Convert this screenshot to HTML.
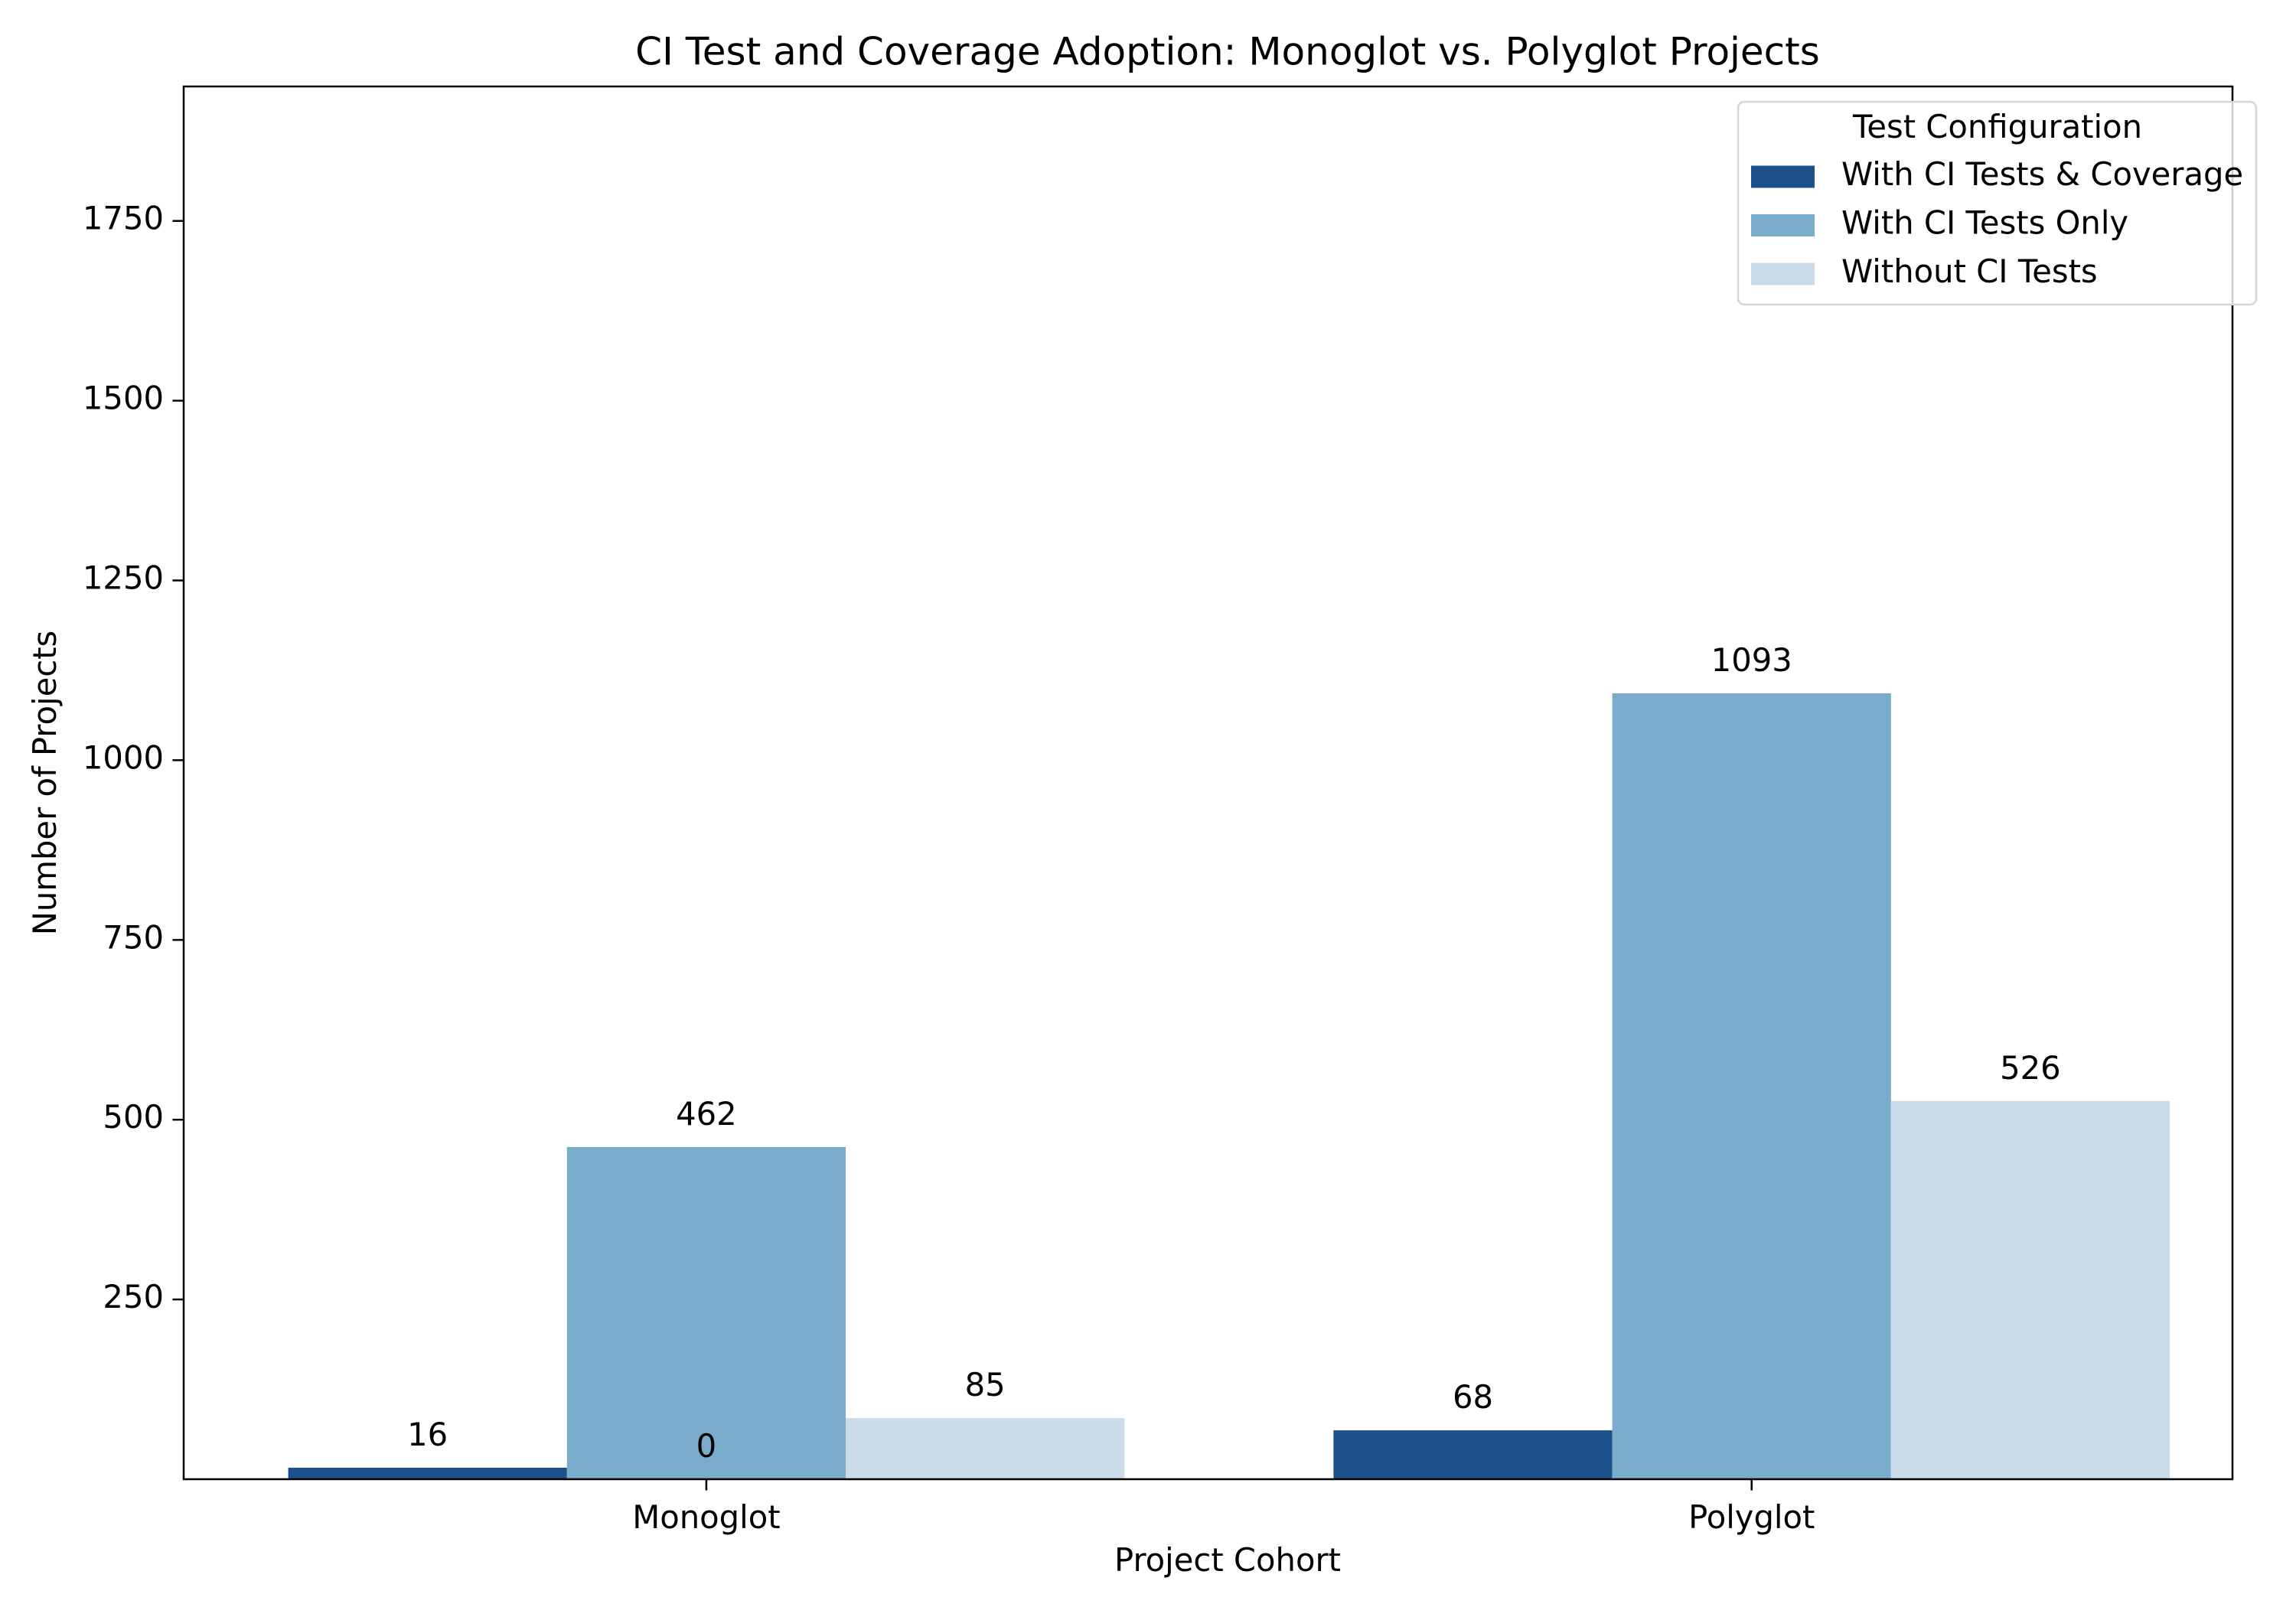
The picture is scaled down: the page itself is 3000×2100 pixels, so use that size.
<!DOCTYPE html>
<html><head><meta charset="utf-8"><style>
html,body{margin:0;padding:0;background:#fff;}
svg{display:block;font-family:"DejaVu Sans","Liberation Sans",sans-serif;}
</style></head><body>
<svg id="chart" width="3000" height="2100" viewBox="0 0 3000 2100" xmlns="http://www.w3.org/2000/svg">
<rect x="0" y="0" width="3000" height="2100" fill="#fff"/>
<text x="1604" y="71" font-size="50" text-anchor="middle" dominant-baseline="middle">CI Test and Coverage Adoption: Monoglot vs. Polyglot Projects</text>
<g id="bars"></g>
<g id="yaxis"></g>
<g id="xaxis"></g>
<rect x="240" y="113" width="2677" height="1820" fill="none" stroke="#000" stroke-width="2.5"/>
<text x="0" y="0" transform="translate(62,1023) rotate(-90)" font-size="41.7" text-anchor="middle" dominant-baseline="middle">Number of Projects</text>
<text x="1604" y="2042" font-size="41.7" text-anchor="middle" dominant-baseline="middle">Project Cohort</text>
<g id="legend">
<rect x="2271" y="133" width="677" height="265" rx="8" fill="#fff" fill-opacity="0.8" stroke="#d6d6d6" stroke-width="2.5"/>
<text x="2610" y="169" font-size="41.7" text-anchor="middle" dominant-baseline="middle">Test Configuration</text>
</g>
</svg>
<script>
const categories = ["Monoglot", "Polyglot"];
const seriesNames = ["With CI Tests & Coverage", "With CI Tests Only", "Without CI Tests"];
const coverageValues = [16, 68];
const testsOnlyValues = [462, 1093];
const withoutValues = [85, 526];
const extraLabelValues = [0];
const extraLabelCategory = [0];
const yTicks = [250, 500, 750, 1000, 1250, 1500, 1750];
const colors = ["#1c518a", "#79abcb", "#cbdbea"];

const NS = "http://www.w3.org/2000/svg";
const L = 240, R = 2917, T = 113, B = 1933;
const yMax = 1937;
const xMin = -0.5, xMax = 1.46;
function xScale(v){ return L + (v - xMin) / (xMax - xMin) * (R - L); }
function yScale(v){ return B - v / yMax * (B - T); }
function mk(tag, attrs, parent){
  const e = document.createElementNS(NS, tag);
  for (const k in attrs) e.setAttribute(k, attrs[k]);
  parent.appendChild(e);
  return e;
}
const bars = document.getElementById('bars');
const yaxis = document.getElementById('yaxis');
const xaxis = document.getElementById('xaxis');
const legend = document.getElementById('legend');
const series = [coverageValues, testsOnlyValues, withoutValues];
const bw = 0.8 / 3;
for (let s = 0; s < 3; s++) {
  for (let c = 0; c < categories.length; c++) {
    const x0 = xScale(c - 0.4 + s * bw), x1 = xScale(c - 0.4 + (s + 1) * bw);
    const v = series[s][c];
    const r = mk('rect', {x: x0, y: yScale(v), width: x1 - x0, height: B - yScale(v), fill: colors[s]}, bars);
    
    
  }
}
for (let s = 0; s < 3; s++) {
  for (let c = 0; c < categories.length; c++) {
    const xc = xScale(c - 0.4 + (s + 0.5) * bw);
    const lv = series[s][c];
    const t = mk('text', {x: xc, y: yScale(lv) - 40, 'font-size': 41.7, 'text-anchor': 'middle', 'dominant-baseline': 'middle'}, bars);
    t.textContent = String(lv);
    
    
  }
}
extraLabelValues.forEach((lv, i) => {
  const t = mk('text', {x: xScale(extraLabelCategory[i]), y: yScale(lv) - 40, 'font-size': 41.7, 'text-anchor': 'middle', 'dominant-baseline': 'middle'}, bars);
  t.textContent = String(lv);
  
  
});
yTicks.forEach(v => {
  const y = yScale(v);
  const ln = mk('line', {x1: L - 14.6, x2: L, y1: y, y2: y, stroke: '#000', 'stroke-width': 2.5}, yaxis);
  
  
  const t = mk('text', {x: L - 26, y: y, 'font-size': 41.7, 'text-anchor': 'end', 'dominant-baseline': 'middle'}, yaxis);
  t.textContent = String(v);
  
  
});
categories.forEach((c, i) => {
  const x = xScale(i);
  const ln = mk('line', {x1: x, x2: x, y1: B, y2: B + 14.6, stroke: '#000', 'stroke-width': 2.5}, xaxis);
  
  
  const t = mk('text', {x: x, y: 1986, 'font-size': 41.7, 'text-anchor': 'middle', 'dominant-baseline': 'middle'}, xaxis);
  t.textContent = c;
  
  
});
seriesNames.forEach((n, i) => {
  const y = 231 + i * 63.5;
  const p = mk('rect', {x: 2288, y: y - 14.5, width: 83, height: 29, fill: colors[i]}, legend);
  
  
  const t = mk('text', {x: 2406, y: y, 'font-size': 41.7, 'dominant-baseline': 'middle'}, legend);
  t.textContent = n;
  
  
});
</script>
</body></html>
